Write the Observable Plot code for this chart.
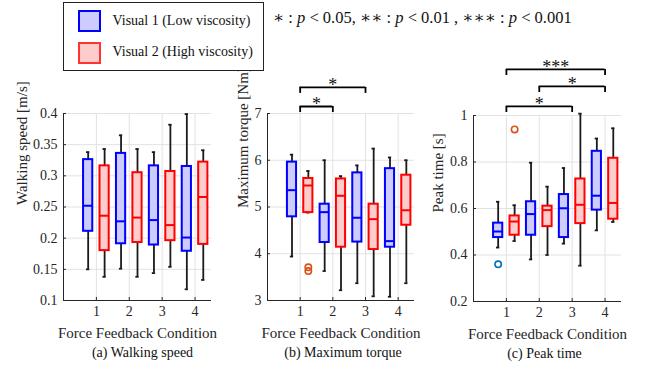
<!DOCTYPE html>
<html><head><meta charset="utf-8">
<script src="https://cdn.jsdelivr.net/npm/d3@7"></script>
<script src="https://cdn.jsdelivr.net/npm/@observablehq/plot@0.6"></script>
<style>
body{margin:0;background:#fff;}
#root{position:relative;width:648px;height:369px;font-family:"Liberation Serif","DejaVu Serif",serif;overflow:hidden;background:#fff;}
.panel{position:absolute;top:0;}
#legend{position:absolute;left:63px;top:2px;width:201px;height:69px;border:1.5px solid #222;box-sizing:border-box;background:#fff;}
.sw{position:absolute;left:13.5px;width:23px;height:22px;box-sizing:border-box;border:2.5px solid;}
.lt{position:absolute;left:48.5px;font-size:14px;line-height:16px;white-space:nowrap;color:#111;}
#sig{position:absolute;left:273px;top:8px;font-size:16.5px;line-height:20px;white-space:nowrap;color:#111;}
</style></head><body>
<div id="root">
  <div id="pa" class="panel" style="left:0px"></div>
  <div id="pb" class="panel" style="left:216px"></div>
  <div id="pc" class="panel" style="left:426px"></div>
  <div id="legend">
    <div class="sw" style="top:6.5px;border-color:#0000ff;background:#ccccff"></div>
    <div class="lt" style="top:10px">Visual 1 (Low viscosity)</div>
    <div class="sw" style="top:38.5px;border-color:#ff3333;background:#ffcccc"></div>
    <div class="lt" style="top:41px">Visual 2 (High viscosity)</div>
  </div>
  <div id="sig">∗ : <i>p</i> &lt; 0.05, ∗∗ : <i>p</i> &lt; 0.01 , ∗∗∗ : <i>p</i> &lt; 0.001</div>
</div>
<script>
// ---- data ----
const conditions = [1, 2, 3, 4];
const seriesNames = ["Visual 1 (Low viscosity)", "Visual 2 (High viscosity)"];
// five-number summaries per condition: [lower whisker, Q1, median, Q3, upper whisker]
const speedVisual1 = [[0.150,0.211,0.252,0.326,0.338],[0.151,0.191,0.227,0.336,0.365],[0.144,0.189,0.229,0.316,0.338],[0.118,0.179,0.201,0.315,0.399]];
const speedVisual2 = [[0.138,0.180,0.236,0.316,0.343],[0.138,0.193,0.233,0.305,0.343],[0.154,0.196,0.221,0.307,0.382],[0.133,0.190,0.266,0.322,0.341]];
const speedTicks = [0.1,0.15,0.2,0.25,0.3,0.35,0.4];

const torqueVisual1 = [[3.94,4.79,5.36,5.96,6.12],[3.63,4.24,4.89,5.06,6.00],[3.37,4.25,4.77,5.73,5.89],[3.08,4.14,4.27,5.82,6.06]];
const torqueVisual2 = [[4.88,4.88,5.46,5.61,5.77],[3.22,4.14,5.24,5.60,5.66],[3.09,4.09,4.74,5.06,6.25],[3.37,4.61,4.93,5.68,6.00]];
const torqueOutliersVisual2 = [[1,3.71],[1,3.63]];
const torqueTicks = [3,4,5,6,7];
const torqueBrackets = [[1,2,7.15,"*"],[1,3,7.56,"*"]];

const peakVisual1 = [[0.432,0.475,0.501,0.537,0.629],[0.381,0.485,0.576,0.629,0.797],[0.449,0.475,0.601,0.660,0.774],[0.506,0.593,0.655,0.846,0.901]];
const peakVisual2 = [[0.460,0.485,0.544,0.568,0.614],[0.400,0.522,0.593,0.610,0.694],[0.354,0.535,0.616,0.727,1.008],[0.542,0.554,0.624,0.816,0.945]];
const peakOutliersVisual1 = [[1,0.360]];
const peakOutliersVisual2 = [[1,0.940]];
const peakTicks = [0.2,0.4,0.6,0.8,1];
const peakBrackets = [[1,3,1.039,"*"],[2,4,1.125,"*"],[1,4,1.198,"***"]];

// ---- drawing ----
const OFF = 0.25, BW = 0.14, CAP = 0.05;
const BLUE = "#0000ff", RED = "#ff0000", BLUEF = "#ccccff", REDF = "#ffcccc";
const FONT = "'Liberation Serif','DejaVu Serif',serif";
const toRows = (arr, off) => arr.map((s, i) => ({x: conditions[i] + off, lo: s[0], q1: s[1], med: s[2], q3: s[3], hi: s[4]}));

function boxMarks(rows, stroke, fill) {
  return [
    Plot.ruleX(rows, {x: "x", y1: "lo", y2: "q1", stroke: "#1a1a1a", strokeWidth: 1.8}),
    Plot.ruleX(rows, {x: "x", y1: "q3", y2: "hi", stroke: "#1a1a1a", strokeWidth: 1.8}),
    Plot.ruleY(rows, {y: "hi", x1: d => d.x - CAP, x2: d => d.x + CAP, stroke: "#1a1a1a", strokeWidth: 1.8}),
    Plot.ruleY(rows, {y: "lo", x1: d => d.x - CAP, x2: d => d.x + CAP, stroke: "#1a1a1a", strokeWidth: 1.8}),
    Plot.rect(rows, {x1: d => d.x - BW, x2: d => d.x + BW, y1: "q1", y2: "q3", fill, stroke, strokeWidth: 2}),
    Plot.ruleY(rows, {y: "med", x1: d => d.x - BW, x2: d => d.x + BW, stroke, strokeWidth: 2})
  ];
}

function panel(cfg) {
  const r1 = toRows(cfg.v1, -OFF), r2 = toRows(cfg.v2, OFF);
  const o1 = (cfg.o1 || []).map(([c, v]) => ({x: c - OFF, y: v}));
  const o2 = (cfg.o2 || []).map(([c, v]) => ({x: c + OFF, y: v}));
  const br = (cfg.brackets || []).map(([a, b, y, s]) => ({a, b, y, s, t: y - cfg.tick}));
  const d0 = cfg.domain[0], span = cfg.domain[1] - cfg.domain[0];
  const marks = [
    Plot.ruleX(conditions, {stroke: "#e2e2e2", strokeWidth: 1}),
    Plot.ruleY(cfg.ticks, {stroke: "#e2e2e2", strokeWidth: 1}),
    ...boxMarks(r1, BLUE, BLUEF),
    ...boxMarks(r2, RED, REDF),
    Plot.dot(o1, {x: "x", y: "y", r: 3.2, stroke: "#0072BD", strokeWidth: 1.6}),
    Plot.dot(o2, {x: "x", y: "y", r: 3.2, stroke: "#D95319", strokeWidth: 1.6}),
    Plot.ruleY(br, {y: "y", x1: "a", x2: "b", stroke: "#000", strokeWidth: 1.8}),
    Plot.ruleX(br, {x: "a", y1: "t", y2: "y", stroke: "#000", strokeWidth: 1.8}),
    Plot.ruleX(br, {x: "b", y1: "t", y2: "y", stroke: "#000", strokeWidth: 1.8}),
    Plot.text(br, {x: d => (d.a + d.b) / 2, y: "y", text: "s", fontSize: 18, dy: -2, fill: "#111"}),
    Plot.ruleX([0], {stroke: "#262626", strokeWidth: 1}),
    Plot.ruleY([d0], {stroke: "#262626", strokeWidth: 1}),
    // inward tick marks
    Plot.ruleX(conditions, {x: d => d, y1: d0, y2: d0 + span * 0.016, stroke: "#262626", strokeWidth: 1}),
    Plot.ruleY(cfg.ticks, {y: d => d, x1: 0, x2: 0.09, stroke: "#262626", strokeWidth: 1}),
    Plot.axisX(conditions, {tickSize: 0, tickPadding: 6, fontSize: 14, label: null, fill: "#262626"}),
    Plot.axisY(cfg.ticks, {tickSize: 0, tickPadding: 6, fontSize: 14, label: null, tickFormat: d => String(d), fill: "#262626"}),
    Plot.text(["Force Feedback Condition"], {frameAnchor: "bottom", lineAnchor: "middle", dy: 33, fontSize: 15, fill: "#262626"}),
    Plot.text([cfg.caption], {frameAnchor: "bottom", lineAnchor: "middle", dy: 52, dx: cfg.capDx, fontSize: 14, fill: "#111"}),
    Plot.text([cfg.ylabel], {frameAnchor: "left", lineAnchor: "middle", rotate: -90, dx: cfg.ylDx, dy: cfg.ylDy, fontSize: 15, fill: "#262626"})
  ];
  const svg = Plot.plot({
    width: cfg.width, height: 369,
    marginLeft: cfg.ml, marginRight: cfg.mr, marginTop: cfg.mt, marginBottom: cfg.mb,
    x: {type: "linear", domain: [0, 4.5], axis: null},
    y: {type: "linear", domain: cfg.domain, axis: null},
    style: {fontFamily: FONT, fontSize: "14px", background: "transparent", overflow: "visible"},
    marks
  });
  document.getElementById(cfg.id).appendChild(svg);
}

panel({id: "pa", width: 216, ml: 63, mr: 5, mt: 113, mb: 69, domain: [0.1, 0.4], ticks: speedTicks,
  v1: speedVisual1, v2: speedVisual2, ylabel: "Walking speed [m/s]", ylDx: -41, ylDy: -2,
  caption: "(a) Walking speed", capDx: 5, tick: 0});
panel({id: "pb", width: 210, ml: 51, mr: 12, mt: 113, mb: 69, domain: [3, 7], ticks: torqueTicks,
  v1: torqueVisual1, v2: torqueVisual2, o2: torqueOutliersVisual2, brackets: torqueBrackets, tick: 0.13,
  ylabel: "Maximum torque [Nm]", ylDx: -24, ylDy: 1, caption: "(b) Maximum torque", capDx: 2});
panel({id: "pc", width: 222, ml: 47, mr: 27, mt: 115, mb: 68, domain: [0.2, 1], ticks: peakTicks,
  v1: peakVisual1, v2: peakVisual2, o1: peakOutliersVisual1, o2: peakOutliersVisual2, brackets: peakBrackets, tick: 0.026,
  ylabel: "Peak time [s]", ylDx: -35, ylDy: 4, caption: "(c) Peak time", capDx: -3});
</script>
</body></html>
